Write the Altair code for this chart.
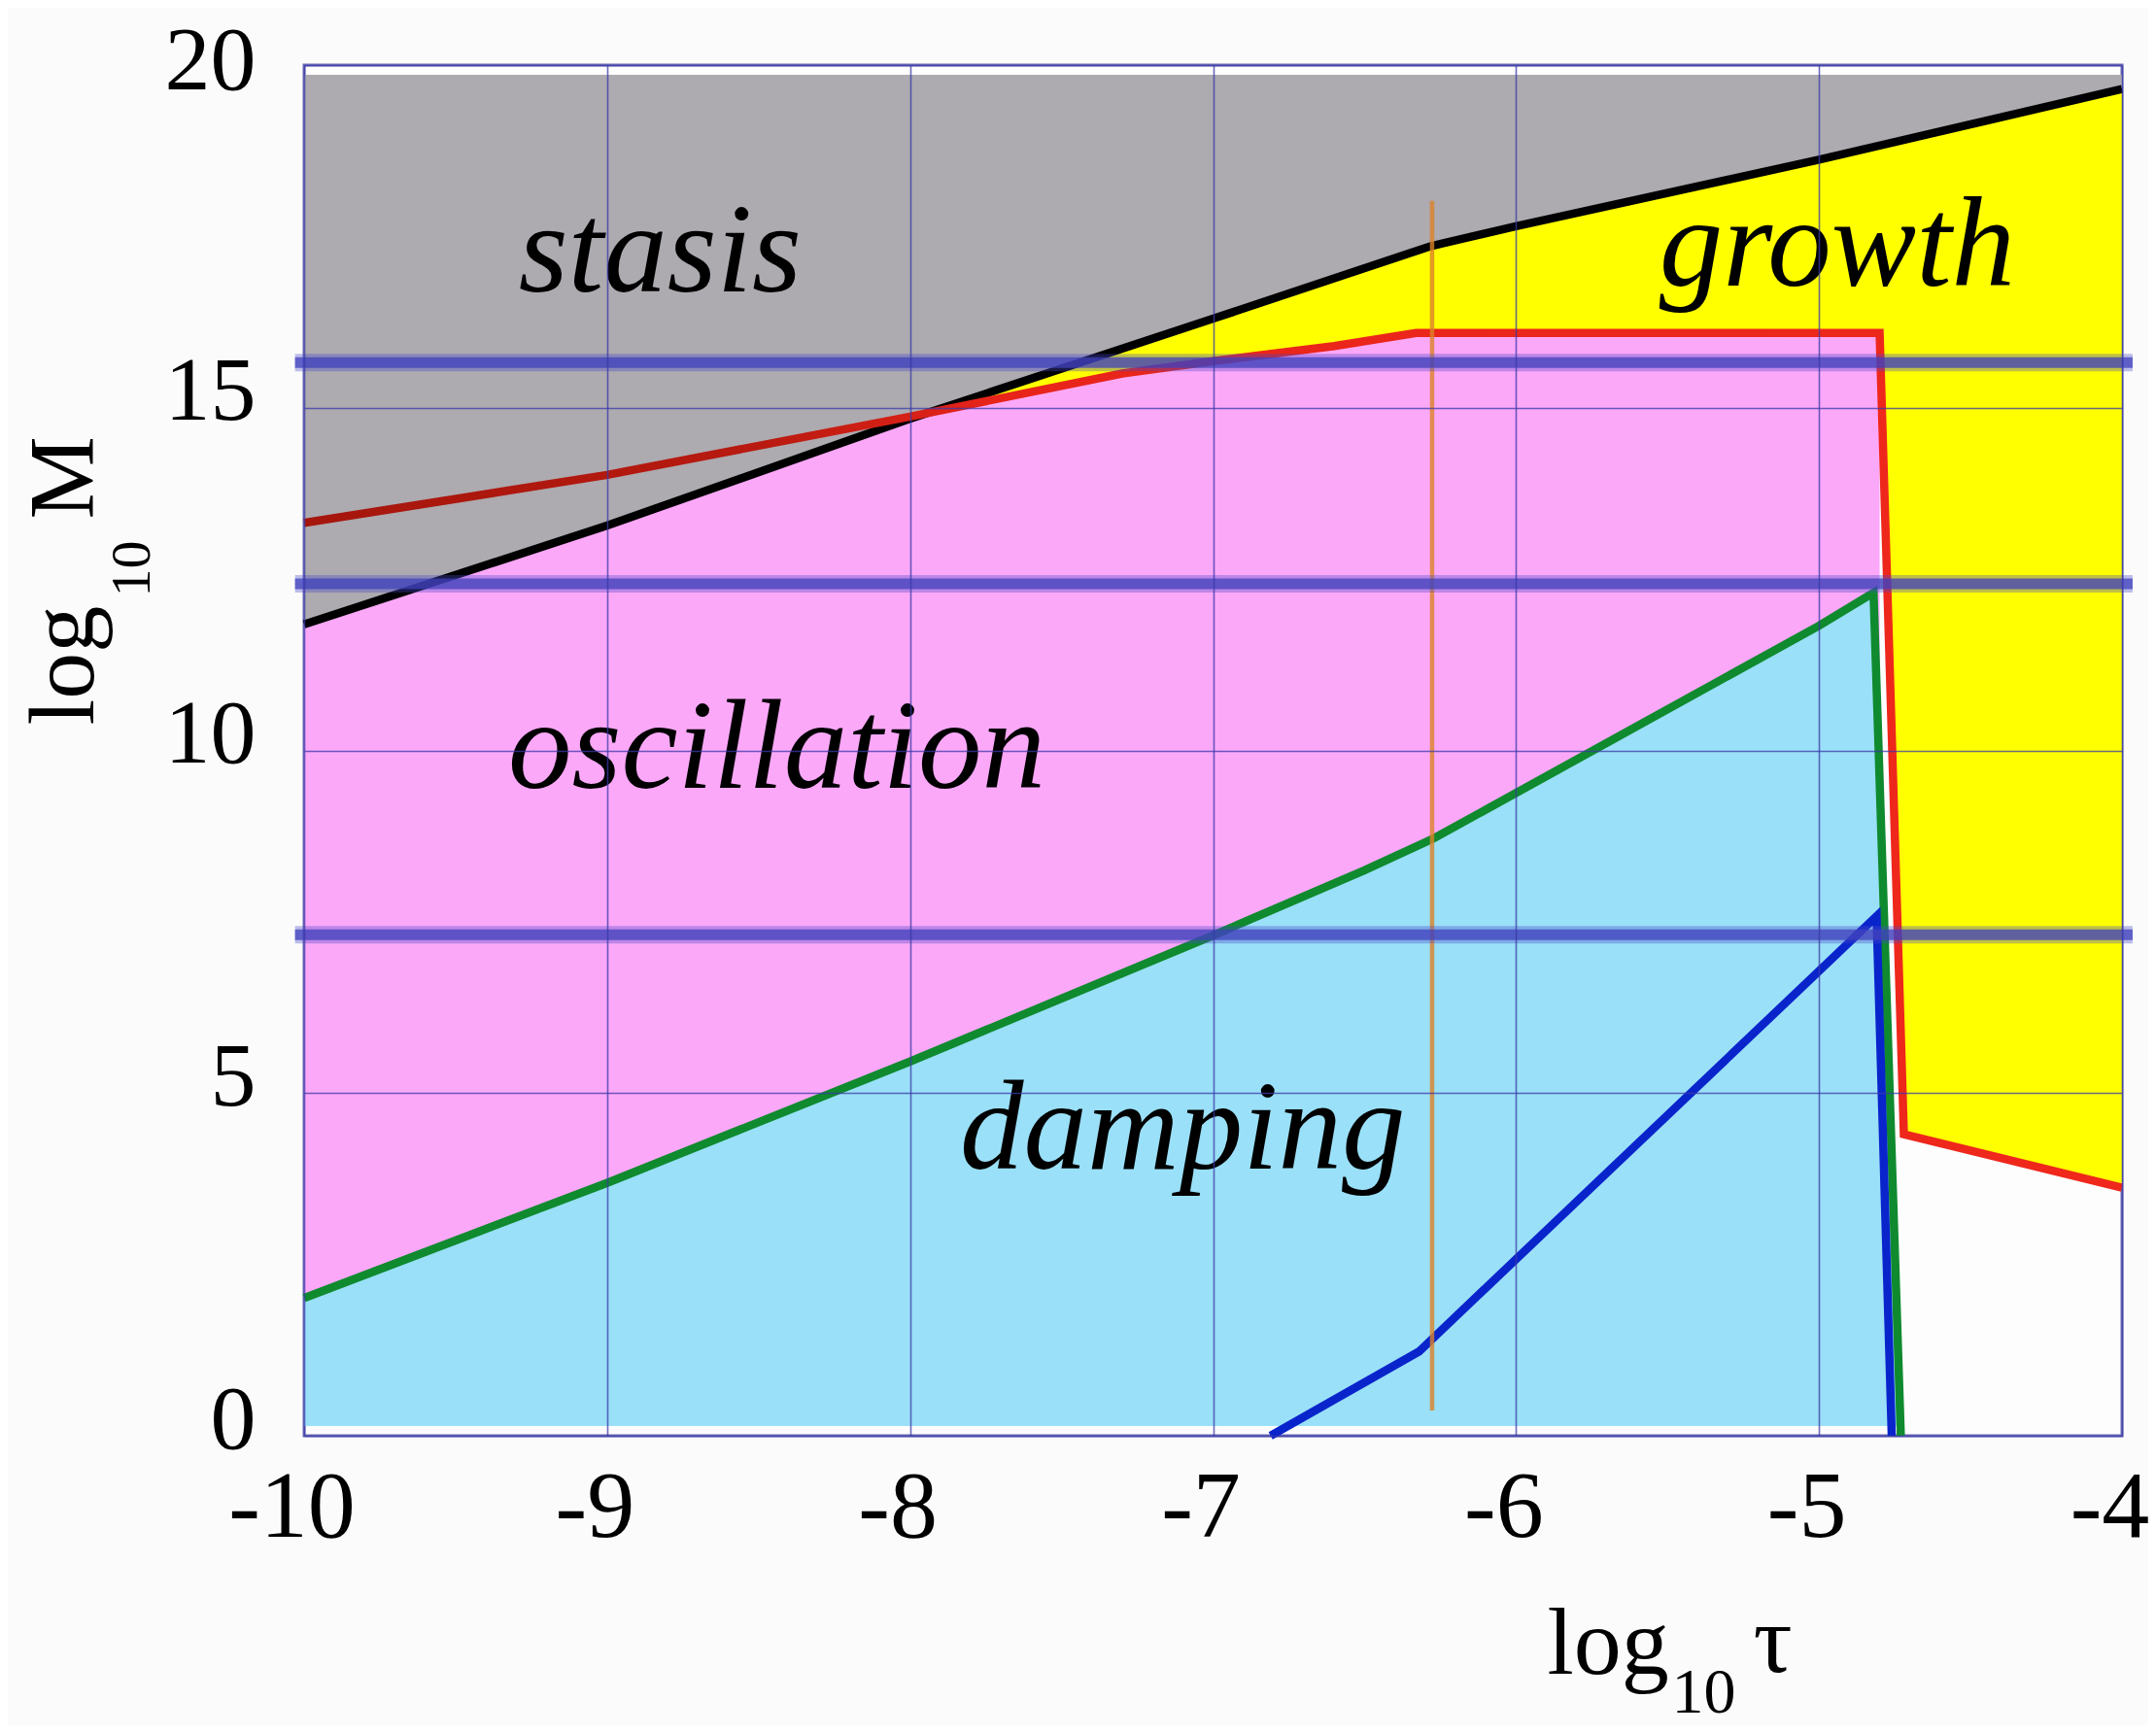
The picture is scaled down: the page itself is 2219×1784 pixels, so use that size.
import altair as alt
import pandas as pd

# ---- data (x = log10 tau, y = log10 M) ----
black_x = [-10.0, -9.0, -8.0, -7.0, -6.28, -6.0, -5.0, -4.0]
black_y = [11.84, 13.28, 14.84, 16.30, 17.36, 17.65, 18.62, 19.65]

red_x = [-10.0, -9.0, -8.0, -7.3, -7.0, -6.6, -6.33, -4.80, -4.72, -4.0]
red_y = [13.32, 14.02, 14.87, 15.50, 15.68, 15.90, 16.09, 16.09, 4.40, 3.62]

green_x = [-10.0, -9.0, -8.0, -7.0, -6.5, -6.27, -5.0, -4.82, -4.73]
green_y = [2.01, 3.69, 5.46, 7.30, 8.25, 8.72, 11.82, 12.30, 0.0]

blue_x = [-6.81, -6.32, -4.81, -4.76]
blue_y = [0.0, 1.23, 7.58, 0.0]

fill_top = 19.86      # upper edge of the shaded regions
fill_base = 0.14      # lower edge of the shaded regions
pink_right = -4.80    # right end of the oscillation region

orange_x = [-6.277]
orange_lo = [0.37]
orange_hi = [18.02]

band_y = [15.66, 12.43, 7.31]
band_x0 = -10.03
band_x1 = -3.965

region_names = ["stasis", "oscillation", "damping", "growth"]
region_x = [-8.825, -8.44, -7.10, -4.94]
region_y = [16.70, 9.45, 3.90, 16.78]

x_ticks = [-10, -9, -8, -7, -6, -5, -4]
y_ticks = [0, 5, 10, 15, 20]

# ---- tables ----
df_black = pd.DataFrame({"x": black_x, "y": black_y, "top": fill_top})
df_red = pd.DataFrame({"x": red_x, "y": red_y, "top": fill_top, "base": fill_base,
                       "idx": range(len(red_x))})
df_pink = df_red[df_red["x"] <= pink_right]
df_green = pd.DataFrame({"x": green_x, "y": green_y, "base": fill_base,
                         "idx": range(len(green_x))})
df_blue = pd.DataFrame({"x": blue_x, "y": blue_y, "idx": range(len(blue_x))})
df_orange = pd.DataFrame({"x": orange_x, "lo": orange_lo, "hi": orange_hi})
df_band = pd.DataFrame({"y": band_y, "x0": band_x0, "x1": band_x1})
df_lab = pd.DataFrame({"name": region_names, "x": region_x, "y": region_y})
df_dummy = pd.DataFrame({"x": [-10.0], "y": [0.0]})

FONT = "Liberation Serif"
xscale = alt.Scale(domain=[-10, -4], nice=False, zero=False)
yscale = alt.Scale(domain=[0, 20], nice=False, zero=False)
GRID = "#3a3aa8"

x_axis_main = alt.Axis(
    values=x_ticks, labelExpr="'' + datum.value", labelFlush=False,
    ticks=False, tickSize=0, domain=False, grid=True, gridColor=GRID,
    gridOpacity=0.75, gridWidth=1.6, zindex=1, labelPadding=26, labelOffset=-13,
    labelFont=FONT, labelFontSize=98, labelColor="black",
    title="log", titleFont=FONT, titleFontSize=98, titleFontWeight="normal",
    titleColor="black", titleX=1279, titleY=244, titleAlign="left",
    titleBaseline="alphabetic", orient="bottom")
y_axis_main = alt.Axis(
    values=y_ticks, labelExpr="'' + datum.value", labelFlush=False,
    ticks=False, tickSize=0, domain=False, grid=True, gridColor=GRID,
    gridOpacity=0.75, gridWidth=1.6, zindex=1, labelPadding=50,
    labelOffset={"condition": {"test": "datum.value == 20", "value": -4},
                 "value": -16},
    labelFont=FONT, labelFontSize=94, labelColor="black",
    title="log", titleFont=FONT, titleFontSize=96, titleFontWeight="normal",
    titleColor="black", titleX=-218, titleY=679, titleAlign="left",
    titleBaseline="alphabetic", titleAngle=270, orient="left")


def title_axis(text, size, tx, ty, orient, angle=None):
    kw = dict(title=text, labels=False, ticks=False, tickSize=0, domain=False,
              grid=False, titleFont=FONT, titleFontSize=size,
              titleFontWeight="normal", titleColor="black", titleX=tx,
              titleY=ty, titleAlign="left", titleBaseline="alphabetic",
              orient=orient)
    if angle is not None:
        kw["titleAngle"] = angle
    return alt.Axis(**kw)


def X(field="x", axis=None):
    return alt.X(f"{field}:Q", scale=xscale, axis=axis)


def Y(field="y", axis=None):
    return alt.Y(f"{field}:Q", scale=yscale, axis=axis)


yellow = alt.Chart(df_red).mark_area(color="#ffff00", opacity=1).encode(
    x=X(axis=x_axis_main), y=Y(axis=y_axis_main), y2="top:Q")
pink = alt.Chart(df_pink).mark_area(color="#fca8f9", opacity=1).encode(
    x=X(), y=Y(), y2="base:Q")
grey = alt.Chart(df_black).mark_area(color="#adaab0", opacity=1).encode(
    x=X(), y=Y(), y2="top:Q")
cyan = alt.Chart(df_green).mark_area(color="#9ae0f8", opacity=1).encode(
    x=X(), y=Y(), y2="base:Q")

red_grad = alt.LinearGradient(
    gradient="linear",
    stops=[alt.GradientStop(color="#a5160c", offset=0),
           alt.GradientStop(color="#b81a10", offset=0.25),
           alt.GradientStop(color="#e8241a", offset=0.38),
           alt.GradientStop(color="#f0281c", offset=1)],
    x1=0, x2=1, y1=0, y2=0)

LW = 8.5
black_line = alt.Chart(df_black).mark_line(color="black", strokeWidth=LW).encode(
    x=X(), y=Y(), order="x:Q")
red_line = alt.Chart(df_red).mark_line(stroke=red_grad, strokeWidth=LW).encode(
    x=X(), y=Y(), order="idx:Q")
green_line = alt.Chart(df_green).mark_line(color="#0f8a2e", strokeWidth=LW).encode(
    x=X(), y=Y(), order="idx:Q")
blue_line = alt.Chart(df_blue).mark_line(color="#0a24cc", strokeWidth=LW).encode(
    x=X(), y=Y(), order="idx:Q")
orange = alt.Chart(df_orange).mark_rule(color="#dc8228", strokeWidth=4.5, opacity=0.8).encode(
    x=X(), y=Y("lo"), y2="hi:Q")

band_soft = alt.Chart(df_band).mark_rule(color="#4848c8", strokeWidth=18, opacity=0.35).encode(
    x=X("x0"), x2="x1:Q", y=Y())
band_core = alt.Chart(df_band).mark_rule(color="#4040bc", strokeWidth=11, opacity=0.75).encode(
    x=X("x0"), x2="x1:Q", y=Y())

labels = alt.Chart(df_lab).mark_text(
    font=FONT, fontStyle="italic", fontSize=131, align="center",
    baseline="alphabetic", color="black").encode(x=X(), y=Y(), text="name:N")

sub_title = alt.Chart(df_dummy).mark_point(opacity=0, size=1).encode(
    x=X(axis=title_axis("10", 66, 1407, 284, "bottom")),
    y=Y(axis=title_axis("10", 58, -160, 547, "left", 270)))
sym_title = alt.Chart(df_dummy).mark_point(opacity=0, size=1).encode(
    x=X(axis=title_axis("τ", 100, 1491, 242, "bottom")),
    y=Y(axis=title_axis("M", 96, -218, 467, "left", 270)))

chart = alt.layer(
    yellow, pink, grey, cyan, black_line, red_line, green_line,
    blue_line, orange, band_soft, band_core, labels, sub_title, sym_title
).resolve_axis(
    x="independent", y="independent"
).properties(
    width=1871, height=1411,
    autosize=alt.AutoSizeParams(type="none"),
    padding={"left": 305, "top": 59, "right": 27, "bottom": 298},
    background="#fbfbfb",
).configure_view(stroke="#6b6bb5", strokeWidth=3, fill="#fdfdfe")

chart.save("out.html", embed_options={"renderer": "svg", "actions": False})
